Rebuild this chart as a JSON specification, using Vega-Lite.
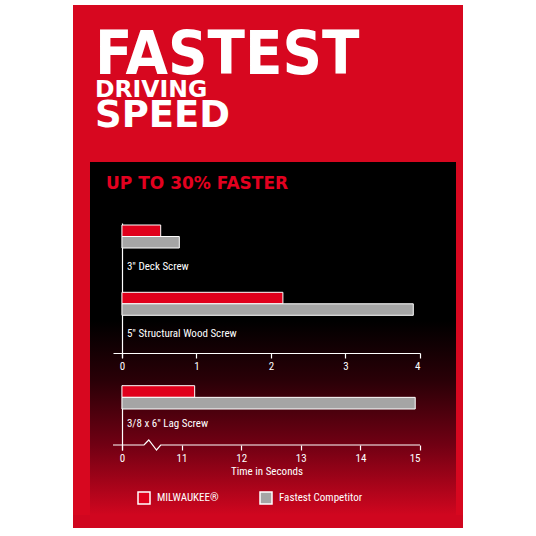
{
  "$schema": "https://vega.github.io/schema/vega-lite/v6.json",
  "background": "white",
  "padding": {"left": 73, "top": 5, "right": 73, "bottom": 8},
  "spacing": 0,
  "datasets": {
    "times": [
      {"screw": "3\" Deck Screw", "brand": "MILWAUKEE®", "seconds": 0.52},
      {"screw": "3\" Deck Screw", "brand": "Fastest Competitor", "seconds": 0.77},
      {"screw": "5\" Structural Wood Screw", "brand": "MILWAUKEE®", "seconds": 2.16},
      {"screw": "5\" Structural Wood Screw", "brand": "Fastest Competitor", "seconds": 3.91},
      {"screw": "3/8 x 6\" Lag Screw", "brand": "MILWAUKEE®", "seconds": 11.22},
      {"screw": "3/8 x 6\" Lag Screw", "brand": "Fastest Competitor", "seconds": 14.92}
    ],
    "axis_break": [
      {"seconds": 9.85, "level": 0},
      {"seconds": 10.37, "level": 0},
      {"seconds": 10.45, "level": 1},
      {"seconds": 10.58, "level": -1},
      {"seconds": 10.65, "level": 0},
      {"seconds": 15, "level": 0}
    ]
  },
  "vconcat": [
    {
      "width": 390,
      "height": 157,
      "view": {"fill": "#d7071f", "stroke": null},
      "data": {"values": [{"line": "FASTEST"}, {"line": "DRIVING"}, {"line": "SPEED"}]},
      "encoding": {
        "x": {"field": "line", "type": "nominal", "scale": {"type": "point", "range": [22, 22], "padding": 0}, "axis": null},
        "y": {"field": "line", "type": "nominal", "scale": {"type": "point", "domain": ["FASTEST", "DRIVING", "SPEED"], "range": [69, 122.3], "padding": 0}, "axis": null},
        "text": {"field": "line"}
      },
      "layer": [
        {
          "transform": [{"filter": {"field": "line", "equal": "FASTEST"}}],
          "mark": {"type": "text", "align": "left", "baseline": "alphabetic", "font": "DejaVu Sans Condensed, Roboto Condensed, Liberation Sans, sans-serif", "fontWeight": "bold", "fontSize": 61, "color": "white"}
        },
        {
          "transform": [{"filter": {"field": "line", "equal": "DRIVING"}}],
          "mark": {"type": "text", "align": "left", "baseline": "alphabetic", "dy": -4, "font": "DejaVu Sans", "fontWeight": "bold", "fontSize": 23.5, "color": "white"}
        },
        {
          "transform": [{"filter": {"field": "line", "equal": "SPEED"}}],
          "mark": {"type": "text", "align": "left", "baseline": "alphabetic", "font": "DejaVu Sans", "fontWeight": "bold", "fontSize": 37, "color": "white"}
        }
      ]
    },
    {
      "spacing": 0,
      "hconcat": [
        {"width": 17, "height": 353, "data": {"values": []}, "mark": "point", "encoding": {}, "view": {"fill": "#d7071f", "stroke": null}},
        {
          "width": 366,
          "height": 353,
          "view": {
            "stroke": null,
            "fill": {
              "gradient": "linear", "x1": 0, "y1": 0, "x2": 0, "y2": 1,
              "stops": [
                {"offset": 0, "color": "#000000"},
                {"offset": 0.45, "color": "#000000"},
                {"offset": 0.62, "color": "#2a0007"},
                {"offset": 0.8, "color": "#700013"},
                {"offset": 1, "color": "#d0061f"}
              ]
            }
          },
          "data": {"name": "times"},
          "layer": [
            {
              "transform": [{"filter": {"field": "screw", "oneOf": ["3\" Deck Screw", "5\" Structural Wood Screw"]}}],
              "encoding": {
                "y": {
                  "field": "screw", "type": "nominal",
                  "scale": {"domain": ["3\" Deck Screw", "5\" Structural Wood Screw"], "range": [61, 195.6], "paddingInner": 0, "paddingOuter": 0},
                  "axis": {"orient": "left", "labels": false, "ticks": false, "title": null, "domainColor": "white", "domainWidth": 1.2, "offset": -32}
                },
                "x": {
                  "field": "seconds", "type": "quantitative",
                  "scale": {"domain": [-0.12, 4], "range": [23, 330], "nice": false, "zero": false},
                  "axis": {
                    "orient": "bottom", "offset": -162, "values": [0, 1, 2, 3, 4], "format": "d", "grid": false, "title": null,
                    "domainColor": "white", "domainWidth": 1.2, "tickColor": "white", "tickWidth": 1.2, "tickSize": 5,
                    "labelColor": "white", "labelFont": "Roboto Condensed, DejaVu Sans Condensed, Liberation Sans, sans-serif", "labelFontSize": 11, "labelPadding": 2
                  }
                }
              },
              "layer": [
                {
                  "mark": {"type": "bar", "stroke": "white", "strokeWidth": 1},
                  "encoding": {
                    "x2": {"datum": 0},
                    "yOffset": {"field": "brand", "scale": {"domain": ["MILWAUKEE®", "Fastest Competitor"], "range": [2, 25], "paddingInner": 0, "paddingOuter": 0}},
                    "color": {
                      "field": "brand", "type": "nominal",
                      "scale": {"domain": ["MILWAUKEE®", "Fastest Competitor"], "range": ["#e0001b", "#a5a5a5"]},
                      "legend": {
                        "orient": "none", "direction": "horizontal", "legendX": 64, "legendY": 486, "title": null,
                        "symbolType": "square", "symbolSize": 144, "symbolStrokeColor": "white", "symbolStrokeWidth": 1.5, "symbolOpacity": 1,
                        "labelColor": "white", "labelFont": "Roboto Condensed, DejaVu Sans Condensed, Liberation Sans, sans-serif", "labelFontSize": 11, "labelOffset": 6,
                        "columnPadding": 38, "padding": 0
                      }
                    }
                  }
                },
                {
                  "transform": [{"filter": {"field": "brand", "equal": "MILWAUKEE®"}}],
                  "mark": {"type": "text", "align": "left", "baseline": "middle", "dx": 5, "color": "white", "font": "Roboto Condensed, DejaVu Sans Condensed, Liberation Sans, sans-serif", "fontSize": 11},
                  "encoding": {
                    "x": {"datum": 0},
                    "y": {"field": "screw", "type": "nominal", "bandPosition": 0.65},
                    "text": {"field": "screw"}
                  }
                }
              ]
            },
            {
              "layer": [
                {
                  "transform": [{"filter": {"field": "screw", "equal": "3/8 x 6\" Lag Screw"}}],
                  "encoding": {
                    "y": {
                      "field": "screw", "type": "nominal",
                      "scale": {"domain": ["3/8 x 6\" Lag Screw"], "range": [223, 288], "paddingInner": 0, "paddingOuter": 0},
                      "axis": {"orient": "left", "labels": false, "ticks": false, "title": null, "domainColor": "white", "domainWidth": 1.2, "offset": -32}
                    },
                    "x": {
                      "field": "seconds", "type": "quantitative",
                      "scale": {"domain": [9.85, 15], "range": [23, 330], "nice": false, "zero": false},
                      "axis": {
                        "orient": "bottom", "offset": -70, "values": [10, 11, 12, 13, 14, 15], "format": "d", "grid": false,
                        "labelExpr": "datum.value == 10 ? '0' : datum.label",
                        "title": "Time in Seconds", "titleColor": "white", "titleFont": "Roboto Condensed, DejaVu Sans Condensed, Liberation Sans, sans-serif", "titleFontSize": 11, "titleFontWeight": "normal", "titlePadding": 2,
                        "domain": false, "tickColor": "white", "tickWidth": 1.2, "tickSize": 5,
                        "labelColor": "white", "labelFont": "Roboto Condensed, DejaVu Sans Condensed, Liberation Sans, sans-serif", "labelFontSize": 11, "labelPadding": 2
                      }
                    }
                  },
                  "layer": [
                    {
                      "mark": {"type": "bar", "stroke": "white", "strokeWidth": 1},
                      "encoding": {
                        "x2": {"datum": 10},
                        "yOffset": {"field": "brand", "scale": {"domain": ["MILWAUKEE®", "Fastest Competitor"], "range": [0.7, 24], "paddingInner": 0, "paddingOuter": 0}},
                        "color": {"field": "brand", "type": "nominal"}
                      }
                    },
                    {
                      "transform": [{"filter": {"field": "brand", "equal": "MILWAUKEE®"}}],
                      "mark": {"type": "text", "align": "left", "baseline": "middle", "dx": 5, "color": "white", "font": "Roboto Condensed, DejaVu Sans Condensed, Liberation Sans, sans-serif", "fontSize": 11},
                      "encoding": {
                        "x": {"datum": 10},
                        "y": {"field": "screw", "type": "nominal", "bandPosition": 0.6},
                        "text": {"field": "screw"}
                      }
                    }
                  ]
                },
                {
                  "data": {"name": "axis_break"},
                  "mark": {"type": "line", "color": "white", "strokeWidth": 1.2},
                  "encoding": {
                    "x": {"field": "seconds", "type": "quantitative"},
                    "y": {"field": "level", "type": "quantitative", "scale": {"domain": [-1, 1], "range": [288, 278]}, "axis": null}
                  }
                }
              ],
              "resolve": {"scale": {"y": "independent"}, "axis": {"y": "independent"}}
            },
            {
              "data": {"values": [{"heading": "UP TO 30% FASTER"}]},
              "mark": {"type": "text", "align": "left", "baseline": "alphabetic", "font": "DejaVu Sans", "fontWeight": "bold", "fontSize": 17, "color": "#e3001f"},
              "encoding": {
                "x": {"field": "heading", "type": "nominal", "scale": {"type": "point", "range": [16, 16], "padding": 0}, "axis": null},
                "y": {"field": "heading", "type": "nominal", "scale": {"type": "point", "range": [26.5, 26.5], "padding": 0}, "axis": null},
                "text": {"field": "heading"}
              }
            }
          ],
          "resolve": {"scale": {"x": "independent", "y": "independent", "yOffset": "independent"}, "axis": {"x": "independent", "y": "independent"}}
        },
        {"width": 7, "height": 353, "data": {"values": []}, "mark": "point", "encoding": {}, "view": {"fill": "#d7071f", "stroke": null}}
      ]
    },
    {"width": 390, "height": 13, "data": {"values": []}, "mark": "point", "encoding": {}, "view": {"fill": "#d0061f", "stroke": null}}
  ],
  "config": {
    "view": {"fill": "#d7071f", "stroke": null},
    "concat": {"spacing": 0}
  }
}
